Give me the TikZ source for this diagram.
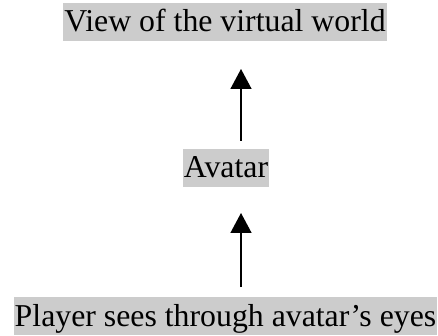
\documentclass[tikz,border=0pt]{standalone}
\usepackage{fontspec}
\setmainfont{Liberation Serif}
\usetikzlibrary{arrows.meta}
\definecolor{hl}{RGB}{204,204,204}
\tikzset{
  lbl/.style={fill=hl, inner xsep=1pt, inner ysep=0pt, text height=29pt, text depth=9pt, anchor=base, font=\fontsize{31.8}{36}\selectfont},
  arr/.style={line width=1.5pt, -{Triangle[length=20pt,width=21pt]}}
}
\begin{document}
\begin{tikzpicture}[x=1pt,y=1pt]
\useasboundingbox (0,0) rectangle (438,-336);
\node[lbl] (top) at (225,-32) {View of the virtual world};
\node[lbl] (avatar) at (226,-178) {Avatar};
\node[lbl] (player) at (225.5,-326) {Player sees through avatar’s eyes};
\coordinate (s1) at (241,-141);
\coordinate (e1) at (241,-69);
\coordinate (s2) at (241,-287);
\coordinate (e2) at (241,-213);
\draw[arr] (s1) -- (e1);
\draw[arr] (s2) -- (e2);
\end{tikzpicture}
\end{document}
